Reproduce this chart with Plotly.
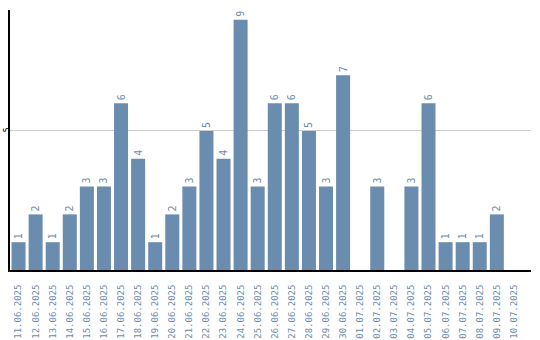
import plotly.graph_objects as go

dates = ["11.06.2025","12.06.2025","13.06.2025","14.06.2025","15.06.2025","16.06.2025",
         "17.06.2025","18.06.2025","19.06.2025","20.06.2025","21.06.2025","22.06.2025",
         "23.06.2025","24.06.2025","25.06.2025","26.06.2025","27.06.2025","28.06.2025",
         "29.06.2025","30.06.2025","01.07.2025","02.07.2025","03.07.2025","04.07.2025",
         "05.07.2025","06.07.2025","07.07.2025","08.07.2025","09.07.2025","10.07.2025"]
counts = [1,2,1,2,3,3,6,4,1,2,3,5,4,9,3,6,6,5,3,7,0,3,0,3,6,1,1,1,2,0]

color = "#6a8caf"
labels = [str(v) if v > 0 else "" for v in counts]

fig = go.Figure(go.Bar(
    x=dates, y=counts, marker_color=color, marker_line_width=0,
    text=labels, textposition="outside", textangle=-90,
    textfont=dict(family="DejaVu Sans Mono", size=10, color=color),
    cliponaxis=False,
))
fig.update_layout(
    width=540, height=340,
    margin=dict(l=10, r=9, t=10, b=70),
    plot_bgcolor="white", paper_bgcolor="white",
    bargap=0.18, showlegend=False,
    xaxis=dict(type="category", range=[-0.5, 30.0], showline=True, linecolor="black",
               linewidth=2, tickangle=-90, ticks="", ticklabelstandoff=9, automargin=False,
               tickfont=dict(family="DejaVu Sans Mono", size=9, color=color)),
    yaxis=dict(range=[0, 9.35], showline=True, linecolor="black", linewidth=2,
               tickvals=[5], ticktext=["5"], showgrid=True, gridcolor="#cccccc",
               zeroline=False, tickangle=-90, ticklabelstandoff=-5, automargin=False,
               tickfont=dict(family="DejaVu Sans Mono", size=8, color="black")),
)
fig.write_html("out.html")
